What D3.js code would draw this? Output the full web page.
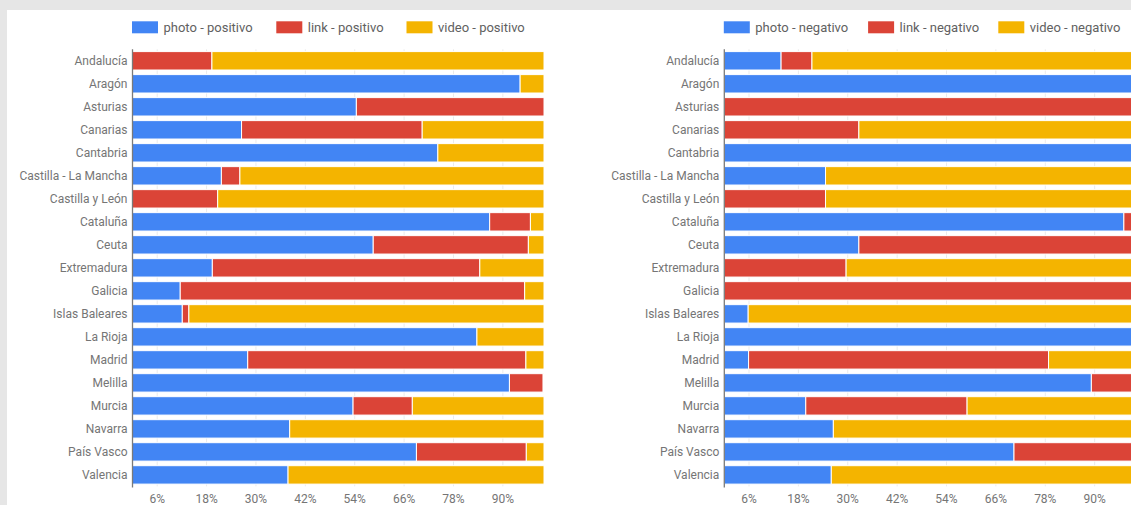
<!DOCTYPE html>
<html>
<head>
<meta charset="utf-8">
<script src="https://cdnjs.cloudflare.com/ajax/libs/d3/7.8.5/d3.min.js"></script>
<style>
  html, body { margin: 0; padding: 0; background: #e6e6e6; overflow: hidden; }
  text { font-family: Roboto, "Noto Sans", sans-serif; }
</style>
</head>
<body>
<div id="canvas"></div>
<script>
// regiones (eje vertical)
var categories = ["Andalucía","Aragón","Asturias","Canarias","Cantabria","Castilla - La Mancha",
  "Castilla y León","Cataluña","Ceuta","Extremadura","Galicia","Islas Baleares","La Rioja",
  "Madrid","Melilla","Murcia","Navarra","País Vasco","Valencia"];

// porcentajes positivos
var photoPos = [0, 94.2, 54.4, 26.5, 74.2, 21.6, 0, 86.8, 58.5, 19.4, 11.6, 12.1, 83.7, 28.0, 91.6, 53.6, 38.2, 69.0, 37.8];
var linkPos  = [19.3, 0, 45.6, 43.9, 0, 4.5, 20.7, 9.9, 37.7, 65.0, 83.7, 1.6, 0, 67.6, 8.2, 14.4, 0, 26.7, 0];
var videoPos = [80.7, 5.8, 0, 29.6, 25.8, 73.9, 79.3, 3.3, 3.8, 15.6, 4.7, 86.3, 16.3, 4.4, 0.2, 32.0, 61.8, 4.3, 62.2];

// porcentajes negativos
var photoNeg = [13.8, 100, 0, 0, 100, 24.6, 0, 97.1, 32.7, 0, 0, 5.8, 100, 5.9, 89.2, 19.8, 26.5, 70.4, 26.0];
var linkNeg  = [7.5, 0, 100, 32.7, 0, 0, 24.6, 2.9, 67.3, 29.6, 100, 0, 0, 72.9, 10.8, 39.2, 0, 29.6, 0];
var videoNeg = [78.7, 0, 0, 67.3, 0, 75.4, 75.4, 0, 0, 70.4, 0, 94.2, 0, 21.2, 0, 41.0, 73.5, 0, 74.0];

var tickValues = [6, 18, 30, 42, 54, 66, 78, 90];
var colors = ["#4285f4", "#db4437", "#f4b400"];

var width = 1131;
var height = 505;
var plotLeft = 132.5;
var plotW = 411.5;
var plotTop = 49.3;
var plotBottom = 486.4;
var panelOffset = 591.8;

var svg = d3.select("#canvas").append("svg")
  .attr("width", width)
  .attr("height", height);

svg.append("rect")
  .attr("x", 0).attr("y", 0).attr("width", width).attr("height", height)
  .attr("fill", "#e6e6e6");
svg.append("rect")
  .attr("x", 7).attr("y", 10).attr("width", width - 7).attr("height", height - 10)
  .attr("fill", "#fff");

var x = d3.scaleLinear().domain([0, 100]).range([0, plotW]);
var y = d3.scaleBand().domain(categories).range([plotTop, plotBottom])
  .paddingInner(0.2).paddingOuter(0.1);

function drawChart(offset, names, series) {
  var g = svg.append("g").attr("transform", "translate(" + (offset + plotLeft) + ",0)");

  var rows = categories.map(function(c, i) {
    return {cat: c, a: series[0][i], b: series[1][i], c2: series[2][i]};
  });
  var stack = d3.stack().keys(["a", "b", "c2"]);
  var layers = stack(rows);

  // grid
  g.selectAll("line.grid").data(tickValues).enter().append("line")
    .attr("class", "grid")
    .attr("x1", function(d) { return x(d); })
    .attr("x2", function(d) { return x(d); })
    .attr("y1", plotTop).attr("y2", plotBottom)
    .style("stroke", "#ebebeb").style("stroke-width", 1);

  layers.forEach(function(layer, k) {
    g.append("g").selectAll("rect").data(layer).enter().append("rect")
      .filter(function(d) { return d[1] - d[0] > 0; })
      .attr("x", function(d) { return x(d[0]); })
      .attr("y", function(d) { return y(d.data.cat); })
      .attr("width", function(d) { return x(d[1]) - x(d[0]); })
      .attr("height", y.bandwidth())
      .attr("fill", colors[k])
      .attr("stroke", "#fff")
      .attr("stroke-width", 1);
  });

  // baseline
  g.append("line")
    .attr("x1", 0).attr("x2", 0)
    .attr("y1", plotTop).attr("y2", plotBottom + 1)
    .style("stroke", "#7a7a7a").style("stroke-width", 1.3);

  // category labels
  g.selectAll("text.cat").data(categories).enter().append("text")
    .attr("class", "cat")
    .attr("x", -5)
    .attr("y", function(d) { return y(d) + y.bandwidth() / 2; })
    .attr("dy", "0.35em")
    .attr("text-anchor", "end")
    .attr("font-size", 12)
    .attr("fill", "#757575")
    .text(function(d) { return d; });

  // tick labels
  g.selectAll("text.tick").data(tickValues).enter().append("text")
    .attr("class", "tick")
    .attr("x", function(d) { return x(d); })
    .attr("y", 503)
    .attr("text-anchor", "middle")
    .attr("font-size", 12)
    .attr("fill", "#757575")
    .text(function(d) { return d + "%"; });

  // legend
  var legX = [0, 144.3, 274.5];
  names.forEach(function(n, k) {
    g.append("rect")
      .attr("x", legX[k] - 0.5).attr("y", 21.3)
      .attr("width", 26).attr("height", 12)
      .attr("fill", colors[k]);
    g.append("text")
      .attr("x", legX[k] + 31)
      .attr("y", 27.5)
      .attr("dy", "0.35em")
      .attr("font-size", 13)
      .attr("fill", "#616161")
      .text(n);
  });
}

drawChart(0, ["photo - positivo", "link - positivo", "video - positivo"], [photoPos, linkPos, videoPos]);
drawChart(panelOffset, ["photo - negativo", "link - negativo", "video - negativo"], [photoNeg, linkNeg, videoNeg]);
</script>
</body>
</html>
